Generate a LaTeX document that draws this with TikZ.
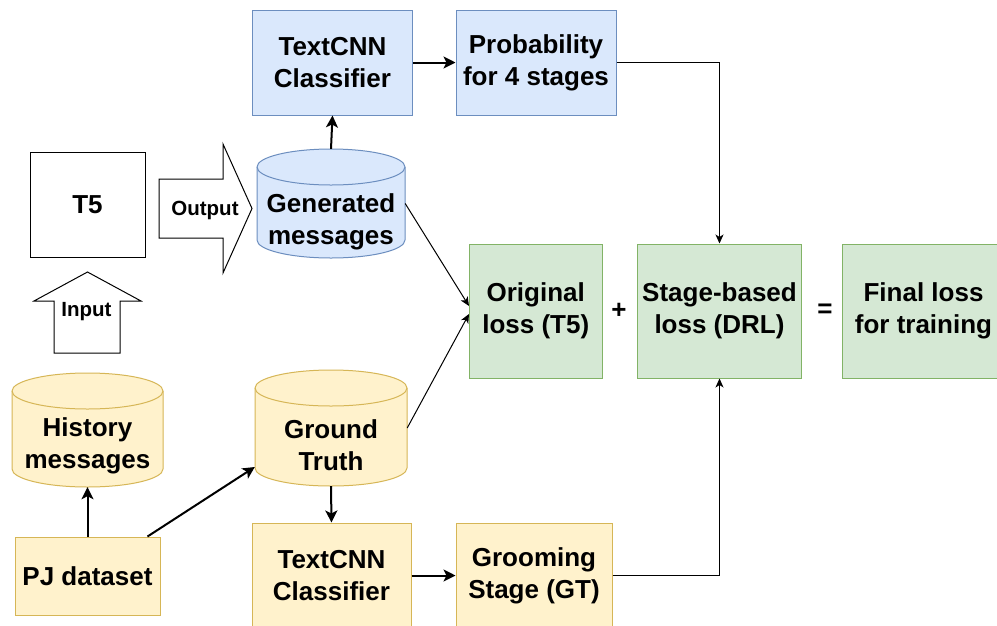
\documentclass[tikz,border=0pt]{standalone}
\usepackage{fontspec}
\setmainfont{Liberation Sans}
\usetikzlibrary{arrows.meta,calc}

\definecolor{bluefill}{HTML}{DAE8FC}
\definecolor{bluedraw}{HTML}{6C8EBF}
\definecolor{greenfill}{HTML}{D5E8D4}
\definecolor{greendraw}{HTML}{82B366}
\definecolor{yellowfill}{HTML}{FFF2CC}
\definecolor{yellowdraw}{HTML}{D6B656}

% cylinder outline: style, left x, right x, top y, bottom y, cap radius
\newcommand\cylinderat[6]{%
  \pgfmathsetmacro\cylrx{(#3-#2)/2}%
  \draw[#1] (#2,#4+#6) -- (#2,#5-#6)
    arc[start angle=180,end angle=360,x radius=\cylrx pt,y radius=#6pt]
    -- (#3,#4+#6)
    arc[start angle=0,end angle=180,x radius=\cylrx pt,y radius=#6pt] -- cycle;
  \draw[#1,fill=none] (#2,#4+#6)
    arc[start angle=180,end angle=360,x radius=\cylrx pt,y radius=#6pt];
}

\tikzset{
  lbl/.style={font=\bfseries\fontsize{26}{32}\selectfont, align=center, inner sep=0pt},
  smalllbl/.style={font=\bfseries\fontsize{20.5}{24}\selectfont, inner sep=0pt},
  box/.style={lbl, draw, line width=1pt},
  bluebox/.style={box, fill=bluefill, draw=bluedraw},
  greenbox/.style={box, fill=greenfill, draw=greendraw},
  yellowbox/.style={box, fill=yellowfill, draw=yellowdraw},
  plainbox/.style={box, fill=white, draw=black},
  bound/.style={inner sep=0pt, draw=none},
  bluecyl/.style={line width=1pt, fill=bluefill, draw=bluedraw},
  yellowcyl/.style={line width=1pt, fill=yellowfill, draw=yellowdraw},
  blockarrow/.style={line width=1pt, draw=black, fill=white, line join=miter},
  thickarrow/.style={line width=2pt, -{Stealth[length=12pt,width=12pt,inset=3pt]}},
  thinarrow/.style={line width=1pt, -{Stealth[length=9pt,width=8pt,inset=2.5pt]}},
}

\begin{document}
\begin{tikzpicture}[x=1pt,y=-1pt]
\useasboundingbox[fill=white] (0,0) rectangle (997,625);

% upper branch: generated messages
\node[bluebox, minimum width=160pt, minimum height=105pt] (tcA) at (332.5,62.5) {TextCNN\\Classifier};
\node[bluebox, minimum width=160pt, minimum height=105pt] (prob) at (536,62.5) {\raisebox{-2pt}{Probability}\\\raisebox{-2pt}{for 4 stages}};

\cylinderat{bluecyl}{257}{405}{149}{258}{18}
\node[bound, minimum width=148pt, minimum height=109pt] (gen) at (331,203.5) {};
\node[lbl] (gentext) at (331,222) {Generated\\messages};

% model and its block arrows
\node[plainbox, minimum width=115pt, minimum height=105pt] (t5) at (87.5,204.5) {T5};

\draw[blockarrow] (159,179) -- (223,179) -- (223,144) -- (252,208.5)
  -- (223,273) -- (223,238) -- (159,238) -- cycle;
\node[smalllbl] (outlbl) at (205,210) {Output};

\draw[blockarrow] (87.5,272) -- (141,301) -- (120,301) -- (120,353)
  -- (54,353) -- (54,301) -- (34,301) -- cycle;
\node[smalllbl] (inlbl) at (86.5,312) {Input};

% loss terms
\node[greenbox, minimum width=132.5pt, minimum height=134pt] (orig) at (535.75,311) {Original\\loss (T5)};
\node[greenbox, minimum width=164pt, minimum height=134pt] (stage) at (719.5,311) {Stage-based\\loss (DRL)};
\node[greenbox, minimum width=163pt, minimum height=134pt] (final) at (923.5,311) {Final loss\\for training};
\node[lbl] (plus) at (619,311) {+};
\node[lbl] (equals) at (825,311) {=};

% lower branch: dataset and ground truth
\cylinderat{yellowcyl}{12}{163}{373}{487}{18}
\node[bound, minimum width=151pt, minimum height=114pt] (hist) at (87.5,430) {};
\node[lbl] (histtext) at (87.5,446) {History\\messages};

\cylinderat{yellowcyl}{255}{407}{370}{486}{18}
\node[bound, minimum width=152pt, minimum height=116pt] (gt) at (331,428) {};
\node[lbl] (gttext) at (331,445) {Ground\\Truth};

\node[yellowbox, minimum width=145pt, minimum height=78pt] (pj) at (87.5,576) {PJ dataset};
\node[yellowbox, minimum width=159pt, minimum height=105pt] (tcB) at (331.5,575.5) {TextCNN\\Classifier};
\node[yellowbox, minimum width=156pt, minimum height=105pt] (groom) at (534,575.5) {Grooming\\Stage (GT)};

% connectors
\draw[thickarrow] (gen.north) -- (tcA.south);
\draw[thickarrow] (tcA.east) -- (prob.west);
\draw[thinarrow] (prob.east) -| (stage.north);
\draw[thinarrow] (gen.east) -- ([yshift=5pt]orig.west);
\draw[thinarrow] (gt.east) -- ([yshift=-3pt]orig.west);
\draw[thickarrow] (pj.north) -- (hist.south);
\draw[thickarrow] ([xshift=-13pt]pj.north east) -- ([yshift=-39pt]gt.west);
\draw[thickarrow] (gt.south) -- (tcB.north);
\draw[thickarrow] (tcB.east) -- (groom.west);
\draw[thinarrow] (groom.east) -| (stage.south);
\end{tikzpicture}
\end{document}
